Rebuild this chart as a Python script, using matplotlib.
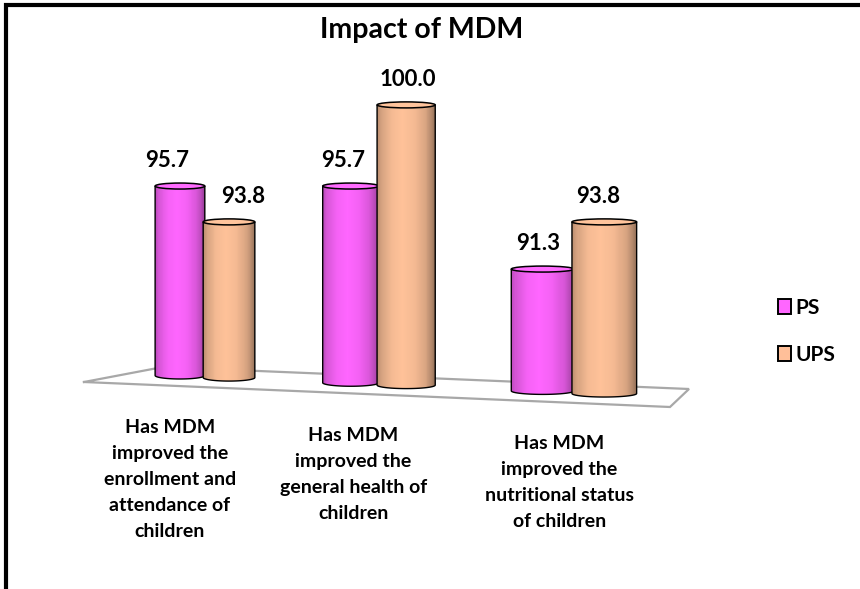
import numpy as np
import matplotlib
matplotlib.use("Agg")
import matplotlib.pyplot as plt
from matplotlib.patches import Patch, Ellipse, PathPatch
from matplotlib.path import Path
from matplotlib.transforms import IdentityTransform
from matplotlib.collections import PolyCollection
from matplotlib.lines import Line2D

# ---- data -------------------------------------------------------------
title = "Impact of MDM"
categories = [
    "Has MDM\nimproved the\nenrollment and\nattendance of\nchildren",
    "Has MDM\nimproved the\ngeneral health of\nchildren",
    "Has MDM\nimproved the\nnutritional status\nof children",
]
series_names = ["PS", "UPS"]
ps_values = [95.7, 95.7, 91.3]
ups_values = [93.8, 100.0, 93.8]

# ---- styling ----------------------------------------------------------
W, H, DPI = 860, 589, 100
FONT = ["Lato", "DejaVu Sans"]
COLORS = {"PS": (1.00, 0.40, 1.00), "UPS": (1.00, 0.76, 0.60)}
LEGEND_COLORS = {"PS": "#FF66FF", "UPS": "#FFBF99"}
BAR_WIDTH = 0.31
BAR_OFFSET = 0.15
PERSPECTIVE = 0.0642          # widening of the x axis towards the right
X0_PX, X_UNIT_PX = 204.0, 163.5
Y_A, Y_B = 1991.9, 18.87      # pixel row = Y_A - Y_B * value
LABEL_DX = {"PS": [-13, -8, -5], "UPS": [14, 2, -6]}

plt.rcParams["font.family"] = FONT

fig = plt.figure(figsize=(W / DPI, H / DPI), dpi=DPI)
ax = fig.add_axes([0, 0, 1, 1])
ax.set_axis_off()


def fwd(x):
    x = np.asarray(x, dtype=float)
    return x + PERSPECTIVE * x * x


def inv(u):
    u = np.asarray(u, dtype=float)
    return (-1 + np.sqrt(np.maximum(1 + 4 * PERSPECTIVE * u, 0))) / (2 * PERSPECTIVE)


ax.set_xscale("function", functions=(fwd, inv))
ax.set_xlim(float(inv(-X0_PX / X_UNIT_PX)), float(inv((W - X0_PX) / X_UNIT_PX)))
ax.set_ylim((Y_A - H) / Y_B, Y_A / Y_B)

ident = IdentityTransform()


def px(y_top):
    """top-origin pixel row -> display y"""
    return H - y_top


# ---- floor ------------------------------------------------------------
floor = [(84, 382), (163, 367), (689, 389), (670, 407), (84, 382)]
ax.add_line(Line2D([p[0] for p in floor], [px(p[1]) for p in floor],
                   transform=ident, color="#A8A8A8", lw=1.6, zorder=1,
                   solid_joinstyle="miter"))


def floor_low(xd):
    """display y of a cylinder's lowest point standing at display x"""
    return px(379 + 0.0425 * (xd - 180))


# ---- bars -------------------------------------------------------------
x = np.arange(len(categories))
inv_data = ax.transData.inverted()

shade_t = [0.0, 0.08, 0.25, 0.45, 0.65, 0.85, 0.95, 1.0]
shade_f = [0.72, 0.84, 0.96, 1.0, 0.96, 0.84, 0.70, 0.58]

EH_BOT, EH_TOP = 3.5, 3.0
bars_info = []
for si, (name, vals) in enumerate(zip(series_names, [ps_values, ups_values])):
    xs = x + (-BAR_OFFSET if si == 0 else BAR_OFFSET)
    bottoms = []
    for xi in xs:
        xd = ax.transData.transform((xi, 90))[0]
        yb = floor_low(xd) + EH_BOT
        bottoms.append(inv_data.transform((xd, yb))[1])
    bottoms = np.array(bottoms)
    bars = ax.bar(xs, np.array(vals) - bottoms, BAR_WIDTH, bottom=bottoms,
                  color=COLORS[name], linewidth=0, zorder=2 + si)
    for ci, b in enumerate(bars):
        bars_info.append((name, si, ci, vals[ci], b))

for name, si, ci, val, b in bars_info:
    z = 2 + si
    bb = b.get_window_extent()
    x0, x1, ybot, ytop = bb.x0, bb.x1, bb.y0, bb.y1
    xc, a = (x0 + x1) / 2, (x1 - x0) / 2
    base = np.array(COLORS[name])
    b.set_visible(False)

    # body outline: sides + lower half of the base ellipse
    t = np.linspace(np.pi, 2 * np.pi, 40)
    arc = np.column_stack([xc + a * np.cos(t), ybot + EH_BOT * np.sin(t)])
    verts = np.vstack([[x0, ytop], arc, [x1, ytop], [x0, ytop]])
    body = Path(verts, closed=True)
    clip = PathPatch(body, transform=ident)

    n = 60
    edges = np.linspace(x0, x1, n + 1)
    polys, cols = [], []
    for k in range(n):
        tt = (k + 0.5) / n
        f = np.interp(tt, shade_t, shade_f)
        c = np.clip(base * f, 0, 1)
        polys.append([(edges[k], ybot - EH_BOT - 2), (edges[k + 1], ybot - EH_BOT - 2),
                      (edges[k + 1], ytop), (edges[k], ytop)])
        cols.append(c)
    coll = PolyCollection(polys, facecolors=cols, edgecolors=cols, linewidths=0.3,
                          transform=ident, zorder=z)
    coll.set_clip_path(clip)
    ax.add_collection(coll, autolim=False)

    ax.add_patch(PathPatch(Path(verts[:-1]), transform=ident, facecolor="none",
                           edgecolor="black", lw=1.0, zorder=z + 0.1))
    top_col = np.clip(base * 0.97 + 0.03, 0, 1)
    ax.add_patch(Ellipse((xc, ytop), 2 * a, 2 * EH_TOP, transform=ident,
                         facecolor=top_col, edgecolor="black", lw=1.1, zorder=z + 0.2))

    # value label
    ax.text(xc + LABEL_DX[name][ci], ytop + 19, f"{val:.1f}", transform=ident,
            ha="center", va="baseline", fontsize=16, fontweight="bold",
            color="black", zorder=10)

# ---- category labels ---------------------------------------------------
for ci, lab in enumerate(categories):
    cx = ax.transData.transform((x[ci], 90))[0]
    dx = -34 + 0.055 * (cx - 204)
    front_y = 382 + 0.043 * (cx - 84)
    ax.text(cx + dx, px(front_y + 32), lab, transform=ident, ha="center", va="top",
            fontsize=14, fontweight="bold", linespacing=1.64, color="black")

# ---- title ----------------------------------------------------------------
fig.text(422 / W, 1 - 38 / H, title, ha="center", va="baseline",
         fontsize=20.5, fontweight="bold", color="black")

# ---- legend ---------------------------------------------------------------
handles = [Patch(facecolor=LEGEND_COLORS[n], edgecolor="black", linewidth=1.4)
           for n in series_names]
fig.legend(handles, series_names, loc="upper left",
           bbox_to_anchor=(778 / W, 1 - 298 / H), frameon=False,
           handlelength=0.62, handleheight=0.75, handletextpad=0.22,
           labelspacing=1.3, borderaxespad=0, borderpad=0,
           prop={"family": FONT, "weight": "bold", "size": 15})

# ---- chart border ------------------------------------------------------------
fig.add_artist(Line2D([6 / W, 6 / W, 1.01], [-0.01, 1 - 5 / H, 1 - 5 / H],
                      transform=fig.transFigure, color="black", lw=3,
                      solid_joinstyle="miter"))

fig.savefig("out.png", dpi=DPI)
